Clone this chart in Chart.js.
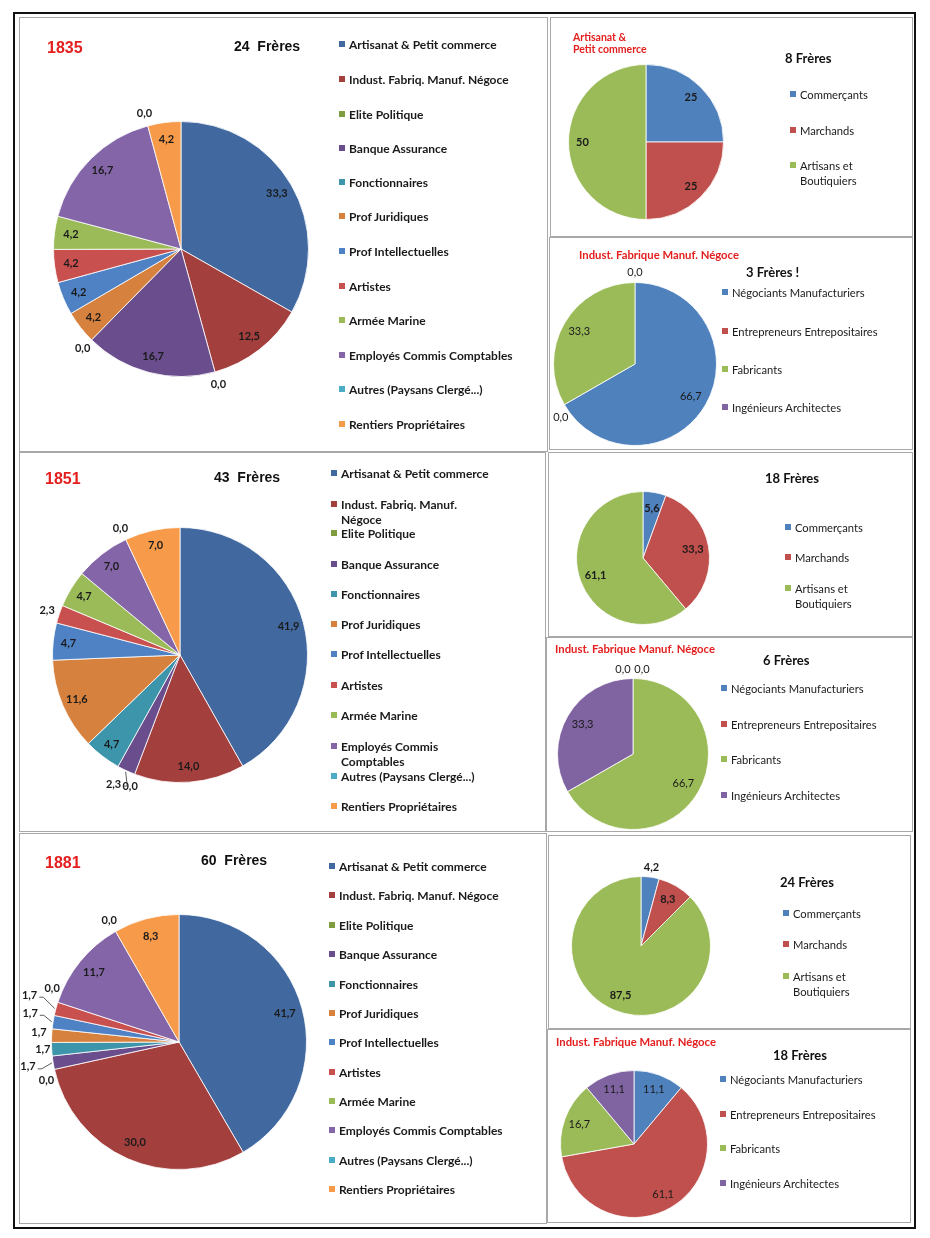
<!DOCTYPE html>
<html lang="fr">
<head>
<meta charset="UTF-8">
<title>Frères - professions 1835 1851 1881</title>
<script src="https://cdn.jsdelivr.net/npm/chart.js@4"></script>
<style>
  body { margin: 0; background: #fff; }
  #page { position: relative; width: 930px; height: 1238px; overflow: hidden; }
  #frame { position: absolute; left: 13px; top: 12px; width: 903px; height: 1217px; border: 2px solid #111; box-sizing: border-box; }
  .panel { position: absolute; border: 1px solid #a8a8a8; box-sizing: border-box; pointer-events: none; z-index: 2; }
  canvas { position: absolute; }
  .txt { position: absolute; white-space: pre; z-index: 3; }
  .year { font: bold 16px "Liberation Sans", Arial, sans-serif; color: #e3201f; line-height: 20px; }
  .count { font: bold 14px "Liberation Sans", Arial, sans-serif; color: #111; line-height: 18px; }
  .count2 { font: bold 13px Lato, sans-serif; color: #111; line-height: 16px; }
  .sub { font: bold 10.5px Lato, sans-serif; color: #e3201f; line-height: 12px; }
  .sub2 { font: bold 11.3px Lato, sans-serif; color: #e3201f; line-height: 14px; }
  .leg { position: absolute; display: flex; align-items: flex-start; z-index: 3; }
  .leg i { display: block; width: 6px; height: 6px; margin-right: 4px; flex: none; }
  .leg span { display: block; }
  .legBig { font: bold 12px Lato, sans-serif; color: #1a1a1a; line-height: 15px; }
  .legSmall { font: 11.2px Lato, sans-serif; color: #1a1a1a; line-height: 15px; }
</style>
</head>
<body>
<div id="page">
  <div id="frame"></div>
</div>

<script>
// ---- data ----
const bigCategories = ['Artisanat & Petit commerce', 'Indust. Fabriq. Manuf. Négoce', 'Elite Politique',
  'Banque Assurance', 'Fonctionnaires', 'Prof Juridiques', 'Prof Intellectuelles', 'Artistes',
  'Armée Marine', 'Employés Commis Comptables', 'Autres (Paysans Clergé...)', 'Rentiers Propriétaires'];
const big1835 = [33.3, 12.5, 0.0, 16.7, 0.0, 4.2, 4.2, 4.2, 4.2, 16.7, 0.0, 4.2];
const big1851 = [41.9, 14.0, 0.0, 2.3, 4.7, 11.6, 4.7, 2.3, 4.7, 7.0, 0.0, 7.0];
const big1881 = [41.7, 30.0, 0.0, 1.7, 1.7, 1.7, 1.7, 1.7, 0.0, 11.7, 0.0, 8.3];

const artisanatCategories = ['Commerçants', 'Marchands', 'Artisans et Boutiquiers'];
const artisanat1835 = [25, 25, 50];
const artisanat1851 = [5.6, 33.3, 61.1];
const artisanat1881 = [4.2, 8.3, 87.5];

const industCategories = ['Négociants Manufacturiers', 'Entrepreneurs Entrepositaires', 'Fabricants', 'Ingénieurs Architectes'];
const indust1835 = [66.7, 0.0, 33.3, 0.0];
const indust1851 = [0.0, 0.0, 66.7, 33.3];
const indust1881 = [11.1, 61.1, 16.7, 11.1];

// ---- colours ----
const bigColors = ['#4169a0', '#a3403e', '#7f9c3f', '#6a4d8c', '#3c95ab', '#d7813e',
  '#4f82c4', '#c8504e', '#9bbb59', '#8466a8', '#4bacc6', '#f79a4a'];
const artColors = ['#4f81bd', '#c0504d', '#9bbb59'];
const indColors = ['#4f81bd', '#c0504d', '#9bbb59', '#8064a2'];

const page = document.getElementById('page');

function addText(cls, text, x, cy, lh) {
  const d = document.createElement('div');
  d.className = 'txt ' + cls;
  d.textContent = text;
  d.style.left = x + 'px';
  d.style.top = (cy - lh / 2) + 'px';
  page.appendChild(d);
}

function addLegend(cls, labels, colors, x, ys, textWidth) {
  labels.forEach((lab, i) => {
    const d = document.createElement('div');
    d.className = 'leg ' + cls;
    d.style.left = x + 'px';
    d.style.top = (ys[i] - 7.5) + 'px';
    const m = document.createElement('i');
    m.style.background = colors[i];
    m.style.marginTop = '4.5px';
    const s = document.createElement('span');
    s.textContent = lab;
    if (textWidth) s.style.width = textWidth + 'px';
    d.appendChild(m); d.appendChild(s);
    page.appendChild(d);
  });
}

// value labels on slices
Chart.register({
  id: 'pieLabels',
  afterDatasetsDraw(chart, args, o) {
    const ctx = chart.ctx;
    const meta = chart.getDatasetMeta(0);
    const values = chart.data.datasets[0].data;
    ctx.save();
    ctx.font = (o.bold ? 'bold ' : '') + o.size + 'px Lato';
    ctx.fillStyle = '#1a1a1a';
    ctx.strokeStyle = '#333';
    ctx.lineWidth = 0.8;
    ctx.textAlign = 'center';
    ctx.textBaseline = 'middle';
    meta.data.forEach((arc, i) => {
      const p = arc.getProps(['x', 'y', 'startAngle', 'endAngle', 'outerRadius'], true);
      const mid = (p.startAngle + p.endAngle) / 2;
      const v = values[i];
      let ratio = v < o.minInside ? o.outR : o.inR;
      if (o.ratios && o.ratios[i] != null) ratio = o.ratios[i];
      const n = (o.nudge && o.nudge[i]) || [0, 0];
      const lx = p.x + Math.cos(mid) * p.outerRadius * ratio + n[0];
      const ly = p.y + Math.sin(mid) * p.outerRadius * ratio + n[1];
      const text = v.toFixed(o.decimals).replace('.', ',');
      ctx.fillText(text, lx, ly);
      if (o.leaders && o.leaders.includes(i)) {
        const w = ctx.measureText(text).width;
        const ex = p.x + Math.cos(mid) * p.outerRadius * 1.01;
        const ey = p.y + Math.sin(mid) * p.outerRadius * 1.01;
        ctx.beginPath();
        ctx.moveTo(lx + w / 2 + 2, ly + 2);
        ctx.lineTo(lx + w / 2 + 6, ly + 2);
        ctx.lineTo(ex, ey);
        ctx.stroke();
      }
    });
    ctx.restore();
  }
});

function makePie(rect, cx, cy, r, labels, values, colors, labelOpts) {
  const [left, top, w, h] = rect;
  const panel = document.createElement('div');
  panel.className = 'panel';
  Object.assign(panel.style, { left: left + 'px', top: top + 'px', width: w + 'px', height: h + 'px' });
  page.appendChild(panel);

  const c = document.createElement('canvas');
  c.width = w; c.height = h;
  Object.assign(c.style, { left: left + 'px', top: top + 'px', width: w + 'px', height: h + 'px' });
  page.appendChild(c);

  const px = cx - left, py = cy - top;
  new Chart(c, {
    type: 'pie',
    data: {
      labels: labels,
      datasets: [{
        data: values,
        backgroundColor: colors,
        borderColor: 'rgba(255,255,255,0.8)',
        borderWidth: 1,
        hoverOffset: 0
      }]
    },
    options: {
      responsive: false,
      animation: false,
      events: [],
      layout: { padding: { left: px - r, top: py - r, right: w - px - r, bottom: h - py - r } },
      plugins: {
        legend: { display: false },
        tooltip: { enabled: false },
        pieLabels: labelOpts
      }
    }
  });
}

// ---- 1835 ----
makePie([19, 17, 529, 435], 181, 249, 128, bigCategories, big1835, bigColors,
  { size: 11, bold: true, decimals: 1, inR: 0.87, outR: 1.1, minInside: 3 });
addText('year', '1835', 47, 48, 20);
addText('count', '24  Frères', 234, 46, 18);
addLegend('legBig', bigCategories, bigColors, 339,
  [44, 79, 114, 148, 182, 216, 251, 286, 320, 355, 389, 424]);

makePie([550, 17, 363, 220], 646, 142, 78, artisanatCategories, artisanat1835, artColors,
  { size: 11, bold: true, decimals: 0, inR: 0.82, outR: 1.13, minInside: 5 });
addText('sub', 'Artisanat &\nPetit commerce', 573, 43, 24);
addText('count2', '8 Frères', 785, 58, 16);
addLegend('legSmall', artisanatCategories, artColors, 790, [94, 130, 165], 80);

makePie([549, 237, 364, 213], 635, 364, 82, industCategories, indust1835, indColors,
  { size: 11, bold: false, decimals: 1, inR: 0.79, outR: 1.12, minInside: 5,
    nudge: { 1: [5, 8] } });
addText('sub2', 'Indust. Fabrique Manuf. Négoce', 579, 255, 14);
addText('count2', '3 Frères !', 746, 272, 16);
addLegend('legSmall', industCategories, indColors, 722, [292, 331, 369, 407]);

// ---- 1851 ----
makePie([19, 452, 527, 380], 180, 655, 128, bigCategories, big1851, bigColors,
  { size: 11, bold: true, decimals: 1, inR: 0.88, outR: 1.1, minInside: 3,
    ratios: { 3: 1.16 }, nudge: { 3: [-4, -5] }, leaders: [3] });
addText('year', '1851', 45, 479, 20);
addText('count', '43  Frères', 214, 477, 18);
addLegend('legBig', bigCategories, bigColors, 331,
  [473, 504, 533, 564, 594, 624, 654, 685, 715, 746, 776, 806], 150);

makePie([548, 452, 365, 185], 643, 558, 67, artisanatCategories, artisanat1851, artColors,
  { size: 11, bold: true, decimals: 1, inR: 0.76, outR: 1.13, minInside: 5 });
addText('count2', '18 Frères', 765, 478, 16);
addLegend('legSmall', artisanatCategories, artColors, 785, [527, 557, 588], 80);

makePie([546, 637, 367, 195], 633, 754, 76, industCategories, indust1851, indColors,
  { size: 11, bold: false, decimals: 1, inR: 0.77, outR: 1.12, minInside: 5,
    nudge: { 0: [-10, 0], 1: [9, 0] } });
addText('sub2', 'Indust. Fabrique Manuf. Négoce', 555, 649, 14);
addText('count2', '6 Frères', 763, 660, 16);
addLegend('legSmall', industCategories, indColors, 721, [688, 724, 759, 795]);

// ---- 1881 ----
makePie([19, 833, 528, 391], 179, 1042, 128, bigCategories, big1881, bigColors,
  { size: 11, bold: true, decimals: 1, inR: 0.86, outR: 1.1, minInside: 2,
    ratios: { 2: 1.08, 3: 1.2, 4: 1.07, 6: 1.19, 7: 1.23, 8: 1.08 },
    nudge: { 2: [2, 9], 5: [0, -3], 6: [1, -5], 7: [2, -6], 8: [4, -11] }, leaders: [3, 6, 7] });
addText('year', '1881', 45, 863, 20);
addText('count', '60  Frères', 201, 860, 18);
addLegend('legBig', bigCategories, bigColors, 329,
  [866, 895, 925, 954, 984, 1013, 1042, 1072, 1101, 1130, 1160, 1189]);

makePie([548, 835, 363, 194], 641, 946, 70, artisanatCategories, artisanat1881, artColors,
  { size: 11, bold: true, decimals: 1, inR: 0.77, outR: 1.14, minInside: 5 });
addText('count2', '24 Frères', 780, 882, 16);
addLegend('legSmall', artisanatCategories, artColors, 783, [913, 944, 976], 80);

makePie([547, 1029, 364, 194], 634, 1144, 74, industCategories, indust1881, indColors,
  { size: 11, bold: false, decimals: 1, inR: 0.79, outR: 1.12, minInside: 5 });
addText('sub2', 'Indust. Fabrique Manuf. Négoce', 556, 1042, 14);
addText('count2', '18 Frères', 773, 1055, 16);
addLegend('legSmall', industCategories, indColors, 720, [1079, 1114, 1148, 1183]);
</script>
</body>
</html>
